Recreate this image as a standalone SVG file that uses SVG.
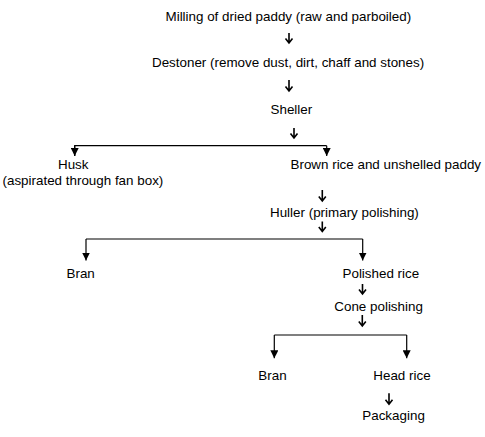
<svg xmlns="http://www.w3.org/2000/svg" width="485" height="437" viewBox="0 0 485 437">
<style>
text{font-family:"Liberation Sans",Arial,sans-serif;font-size:13.4px;fill:#000}
.c{fill:none;stroke:#000;stroke-width:1.2}
.a{fill:none;stroke:#000;stroke-width:1.6}
</style>
<defs>
<marker id="tri" markerWidth="8" markerHeight="8" refX="8" refY="4" orient="auto" markerUnits="userSpaceOnUse" viewBox="0 0 8 8">
<path d="M0,0 L8,4 L0,8 Z" fill="#000"/>
</marker>
</defs>
<rect width="485" height="437" fill="#fff"/>
<g id="connectors">
<path class="a" d="M289,33 V43 M285.5,38.5 L289,43 L292.5,38.5"/>
<path class="a" d="M289,80 V91 M285.5,86.5 L289,91 L292.5,86.5"/>
<path class="a" d="M294,128 V138 M290.5,133.5 L294,138 L297.5,133.5"/>
<path class="c" d="M74.7,156 V145.7 H326.7"/>
<path class="c" d="M74.7,145.7 V156" marker-end="url(#tri)"/>
<path class="c" d="M326.7,145.7 V156" marker-end="url(#tri)"/>
<path class="a" d="M322.3,190 V201 M318.8,196.5 L322.3,201 L325.8,196.5"/>
<path class="a" d="M322.3,221.5 V231.5 M318.8,227 L322.3,231.5 L325.8,227"/>
<path class="c" d="M86,239 H362.7"/>
<path class="c" d="M86,239 V260.5" marker-end="url(#tri)"/>
<path class="c" d="M362.7,239 V260.5" marker-end="url(#tri)"/>
<path class="a" d="M362.5,284 V294 M359,289.5 L362.5,294 L366,289.5"/>
<path class="a" d="M362.3,315 V326 M358.8,321.5 L362.3,326 L365.8,321.5"/>
<path class="c" d="M274.3,335 H406.7"/>
<path class="c" d="M274.3,335 V358.3" marker-end="url(#tri)"/>
<path class="c" d="M406.7,335 V358.3" marker-end="url(#tri)"/>
<path class="a" d="M389,393.3 V404.3 M385.5,399.8 L389,404.3 L392.5,399.8"/>
</g>
<g id="milling"><text x="165.5" y="20.5">Milling of dried paddy (raw and parboiled)</text></g>
<g id="destoner"><text x="152" y="66.5">Destoner (remove dust, dirt, chaff and stones)</text></g>
<g id="sheller"><text x="270.5" y="114.3">Sheller</text></g>
<g id="husk"><text x="58" y="169.3">Husk</text><text x="2.5" y="185">(aspirated through fan box)</text></g>
<g id="brown"><text x="290.5" y="169.3">Brown rice and unshelled paddy</text></g>
<g id="huller"><text x="270" y="216.7">Huller (primary polishing)</text></g>
<g id="bran1"><text x="66.5" y="278.3">Bran</text></g>
<g id="polished"><text x="342.5" y="278.3">Polished rice</text></g>
<g id="cone"><text x="334.3" y="310.7">Cone polishing</text></g>
<g id="bran2"><text x="258.3" y="380">Bran</text></g>
<g id="head"><text x="373.3" y="380">Head rice</text></g>
<g id="packaging"><text x="362.3" y="420">Packaging</text></g>
</svg>
